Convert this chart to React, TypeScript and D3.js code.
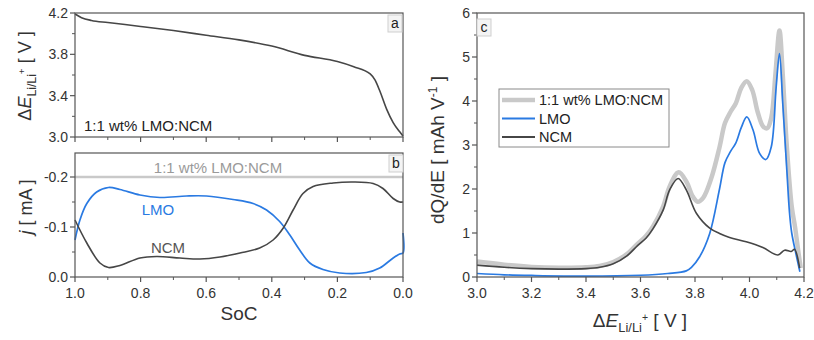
import React from "react";
import * as d3 from "d3";

// ---------- Panel a: cell voltage vs SoC ----------
const socA = [1.0, 0.98, 0.95, 0.9, 0.8, 0.7, 0.6, 0.5, 0.4, 0.3, 0.2, 0.15, 0.1, 0.085, 0.07, 0.05, 0.03, 0.01, 0.0];
const voltA = [4.19, 4.155, 4.128, 4.108, 4.07, 4.03, 3.985, 3.94, 3.88, 3.79, 3.73, 3.68, 3.61, 3.55, 3.44, 3.27, 3.14, 3.05, 3.01];

// ---------- Panel b: partial currents vs SoC ----------
const socLMO = [1.0, 0.985, 0.964, 0.934, 0.898, 0.863, 0.802, 0.741, 0.66, 0.599, 0.518, 0.457, 0.416, 0.376, 0.345, 0.315, 0.284, 0.244, 0.193, 0.112, 0.071, 0.03, 0.01, 0.0, 0.0];
const curLMO = [-0.074, -0.114, -0.147, -0.17, -0.179, -0.175, -0.164, -0.159, -0.162, -0.162, -0.155, -0.147, -0.134, -0.111, -0.084, -0.054, -0.028, -0.015, -0.008, -0.009, -0.018, -0.038, -0.046, -0.048, -0.088];
const socNCM = [1.0, 0.964, 0.924, 0.898, 0.863, 0.802, 0.751, 0.68, 0.619, 0.558, 0.497, 0.437, 0.396, 0.365, 0.335, 0.305, 0.274, 0.213, 0.152, 0.091, 0.061, 0.03, 0.01, 0.0];
const curNCM = [-0.114, -0.068, -0.028, -0.019, -0.023, -0.038, -0.041, -0.038, -0.036, -0.04, -0.048, -0.058, -0.074, -0.098, -0.134, -0.167, -0.181, -0.188, -0.19, -0.187, -0.177, -0.157, -0.15, -0.15];
const socBlend = [1.0, 0.0];
const curBlend = [-0.2, -0.2];

// ---------- Panel c: dQ/dE vs potential ----------
const eBlend = [3.0, 3.1, 3.2, 3.3, 3.4, 3.45, 3.5, 3.55, 3.59, 3.62, 3.646, 3.683, 3.707, 3.74, 3.77, 3.79, 3.81, 3.83, 3.86, 3.89, 3.91, 3.93, 3.95, 3.97, 3.99, 4.01, 4.03, 4.05, 4.065, 4.08, 4.095, 4.11, 4.122, 4.137, 4.155, 4.167, 4.18, 4.188];
const dqBlend = [0.35, 0.28, 0.23, 0.21, 0.22, 0.25, 0.34, 0.52, 0.76, 0.93, 1.15, 1.6, 2.06, 2.38, 2.15, 1.85, 1.71, 1.8, 2.25, 2.95, 3.5, 3.75, 3.95, 4.3, 4.45, 4.25, 3.75, 3.42, 3.38, 3.62, 4.6, 5.6, 4.6, 2.96, 1.6, 1.14, 0.54, 0.2];
const eLMO = [3.0, 3.1, 3.2, 3.4, 3.6, 3.7, 3.768, 3.787, 3.817, 3.854, 3.89, 3.91, 3.93, 3.95, 3.97, 3.99, 4.013, 4.037, 4.06, 4.08, 4.098, 4.11, 4.122, 4.137, 4.147, 4.155, 4.17, 4.185];
const dqLMO = [0.08, 0.05, 0.035, 0.02, 0.04, 0.08, 0.14, 0.22, 0.46, 0.99, 2.0, 2.6, 2.85, 3.05, 3.4, 3.64, 3.34, 2.81, 2.67, 2.96, 4.33, 5.08, 3.95, 2.43, 1.45, 1.0, 0.54, 0.12];
const eNCM = [3.0, 3.1, 3.2, 3.3, 3.4, 3.45, 3.5, 3.55, 3.59, 3.62, 3.646, 3.683, 3.707, 3.738, 3.768, 3.805, 3.854, 3.89, 3.927, 3.988, 4.049, 4.104, 4.129, 4.153, 4.165, 4.184];
const dqNCM = [0.27, 0.22, 0.19, 0.18, 0.19, 0.22, 0.3, 0.48, 0.72, 0.88, 1.1, 1.52, 1.98, 2.24, 1.98, 1.45, 1.11, 0.99, 0.9, 0.8, 0.67, 0.5, 0.61, 0.58, 0.63, 0.2];

// ---------- ticks & labels ----------
const aYTicks = [3.0, 3.4, 3.8, 4.2];
const bYTicks = [0.0, -0.1, -0.2];
const socTicks = [1.0, 0.8, 0.6, 0.4, 0.2, 0.0];
const cXTicks = [3.0, 3.2, 3.4, 3.6, 3.8, 4.0, 4.2];
const cYTicks = [0, 1, 2, 3, 4, 5, 6];
const seriesNames = ["1:1 wt% LMO:NCM", "LMO", "NCM"];

const BLUE = "#2a7ae2";
const DARK = "#464646";
const LIGHT = "#c9c9c9";
const AXIS = "#555";
const FONT = "Liberation Sans, Arial, sans-serif";

const xA = d3.scaleLinear().domain([1.0, 0.0]).range([75, 403]);
const yA = d3.scaleLinear().domain([3.0, 4.2]).range([137, 13]);
const yB = d3.scaleLinear().domain([0, -0.248]).range([277, 153]);
const xC = d3.scaleLinear().domain([3.0, 4.2]).range([477, 804]);
const yC = d3.scaleLinear().domain([0, 6]).range([277, 13]);

const zip = (xs: number[], ys: number[]) => xs.map((x, i) => [x, ys[i]] as [number, number]);

function linePath(xs: number[], ys: number[], sx: any, sy: any, curve: any = d3.curveCatmullRom.alpha(0.5)) {
  return (
    d3
      .line<[number, number]>()
      .x((d) => sx(d[0]))
      .y((d) => sy(d[1]))
      .curve(curve)(zip(xs, ys)) || ""
  );
}

function Frame({ sx, sy }: { sx: any; sy: any }) {
  const [x0, x1] = sx.range();
  const [y0, y1] = sy.range();
  const l = Math.min(x0, x1), r = Math.max(x0, x1), t = Math.min(y0, y1), b = Math.max(y0, y1);
  return <rect x={l} y={t} width={r - l} height={b - t} fill="none" stroke={AXIS} strokeWidth={1.2} />;
}

function XTicks({ sx, y, major, minor, labels, fmt }: any) {
  return (
    <g>
      {minor.map((v: number, i: number) => (
        <line key={"m" + i} x1={sx(v)} x2={sx(v)} y1={y} y2={y + 3} stroke={AXIS} strokeWidth={1} />
      ))}
      {major.map((v: number, i: number) => (
        <g key={"M" + i}>
          <line x1={sx(v)} x2={sx(v)} y1={y} y2={y + 5} stroke={AXIS} strokeWidth={1.2} />
          {labels && (
            <text x={sx(v)} y={y + 21} textAnchor="middle" fontSize={14} fill="#333" fontFamily={FONT}>
              {fmt(v)}
            </text>
          )}
        </g>
      ))}
    </g>
  );
}

function YTicks({ sy, x, major, minor, fmt }: any) {
  return (
    <g>
      {minor.map((v: number, i: number) => (
        <line key={"m" + i} x1={x - 3} x2={x} y1={sy(v)} y2={sy(v)} stroke={AXIS} strokeWidth={1} />
      ))}
      {major.map((v: number, i: number) => (
        <g key={"M" + i}>
          <line x1={x - 5} x2={x} y1={sy(v)} y2={sy(v)} stroke={AXIS} strokeWidth={1.2} />
          <text x={x - 7} y={sy(v)} dy="0.36em" textAnchor="end" fontSize={14} fill="#333" fontFamily={FONT}>
            {fmt(v)}
          </text>
        </g>
      ))}
    </g>
  );
}

function PanelTag({ x, y, t }: { x: number; y: number; t: string }) {
  return (
    <g>
      <rect x={x} y={y} width={14} height={17} fill="#f4f4f4" stroke="#cfcfcf" strokeWidth={1} />
      <text x={x + 7} y={y + 13} textAnchor="middle" fontSize={14} fill="#222" fontFamily={FONT}>
        {t}
      </text>
    </g>
  );
}

function ETitle({ fontSize }: { fontSize: number }) {
  return (
    <>
      <tspan>Δ</tspan>
      <tspan fontStyle="italic">E</tspan>
      <tspan fontSize={fontSize * 0.68} dy={fontSize * 0.28}>Li/Li</tspan>
      <tspan fontSize={fontSize * 0.55} dy={-fontSize * 0.6}>+</tspan>
      <tspan dy={fontSize * 0.32}> [ V ]</tspan>
    </>
  );
}

export default function App() {
  const fmt1 = d3.format(".1f");
  const fmtB = (v: number) => (v === 0 ? "0.0" : "-" + fmt1(Math.abs(v)));
  const fmt0 = d3.format("d");
  const socMinor = d3.range(0.1, 1.0, 0.2);
  return (
    <svg width={814} height={340} style={{ position: "absolute", left: 0, top: 0, background: "#fff" }} fontFamily={FONT}>
      {/* Panel a */}
      <path d={linePath(socA, voltA, xA, yA, d3.curveMonotoneX)} fill="none" stroke={DARK} strokeWidth={1.6} />
      <Frame sx={xA} sy={yA} />
      <XTicks sx={xA} y={137} major={socTicks} minor={socMinor} labels={false} fmt={fmt1} />
      <YTicks sy={yA} x={75} major={aYTicks} minor={[3.2, 3.6, 4.0]} fmt={fmt1} />
      <text x={84} y={131} fontSize={15} fill="#222">1:1 wt% LMO:NCM</text>
      <PanelTag x={388} y={15} t="a" />
      <text transform="translate(31,76) rotate(-90)" textAnchor="middle" fontSize={18} fill="#333">
        <ETitle fontSize={18} />
      </text>

      {/* Panel b */}
      <path d={linePath(socBlend, curBlend, xA, yB)} fill="none" stroke={LIGHT} strokeWidth={2.5} />
      <path d={linePath(socLMO, curLMO, xA, yB)} fill="none" stroke={BLUE} strokeWidth={1.7} />
      <path d={linePath(socNCM, curNCM, xA, yB)} fill="none" stroke={DARK} strokeWidth={1.6} />
      <Frame sx={xA} sy={yB} />
      <XTicks sx={xA} y={277} major={socTicks} minor={socMinor} labels={true} fmt={fmt1} />
      <YTicks sy={yB} x={75} major={bYTicks} minor={[-0.05, -0.15]} fmt={fmtB} />
      <text x={218} y={173} textAnchor="middle" fontSize={15} fill="#9a9a9a">{seriesNames[0]}</text>
      <text x={158} y={215} textAnchor="middle" fontSize={15} fill={BLUE}>{seriesNames[1]}</text>
      <text x={168} y={253} textAnchor="middle" fontSize={15} fill="#555">{seriesNames[2]}</text>
      <PanelTag x={389} y={155} t="b" />
      <text x={239} y={320} textAnchor="middle" fontSize={19} fill="#333">SoC</text>
      <text transform="translate(32,207) rotate(-90)" textAnchor="middle" fontSize={18} fill="#333">
        <tspan fontStyle="italic">j</tspan>
        <tspan> [ mA ]</tspan>
      </text>

      {/* Panel c */}
      <path d={linePath(eBlend, dqBlend, xC, yC)} fill="none" stroke={LIGHT} strokeWidth={4.5} strokeLinejoin="round" />
      <path d={linePath(eLMO, dqLMO, xC, yC)} fill="none" stroke={BLUE} strokeWidth={1.7} />
      <path d={linePath(eNCM, dqNCM, xC, yC)} fill="none" stroke={DARK} strokeWidth={1.6} />
      <Frame sx={xC} sy={yC} />
      <XTicks sx={xC} y={277} major={cXTicks} minor={d3.range(3.1, 4.2, 0.2)} labels={true} fmt={fmt1} />
      <YTicks sy={yC} x={477} major={cYTicks} minor={d3.range(0.5, 6, 1)} fmt={fmt0} />
      <PanelTag x={477} y={19} t="c" />
      <text transform="translate(444,150) rotate(-90)" textAnchor="middle" fontSize={19} fill="#333">
        <tspan>dQ/dE [ mAh V</tspan>
        <tspan fontSize={12} dy={-7}>-1</tspan>
        <tspan dy={7}> ]</tspan>
      </text>
      <text x={640} y={327} textAnchor="middle" fontSize={19} fill="#333">
        <ETitle fontSize={19} />
      </text>

      {/* Legend */}
      <rect x={499} y={89} width={170} height={58} fill="#fff" stroke="#8a8a8a" strokeWidth={1} />
      {[LIGHT, BLUE, DARK].map((c, i) => (
        <g key={i}>
          <line x1={502} x2={535} y1={100 + i * 18.5} y2={100 + i * 18.5} stroke={c} strokeWidth={i === 0 ? 4.5 : 1.8} />
          <text x={539} y={100 + i * 18.5} dy="0.36em" fontSize={14.5} fill="#222">{seriesNames[i]}</text>
        </g>
      ))}
    </svg>
  );
}
